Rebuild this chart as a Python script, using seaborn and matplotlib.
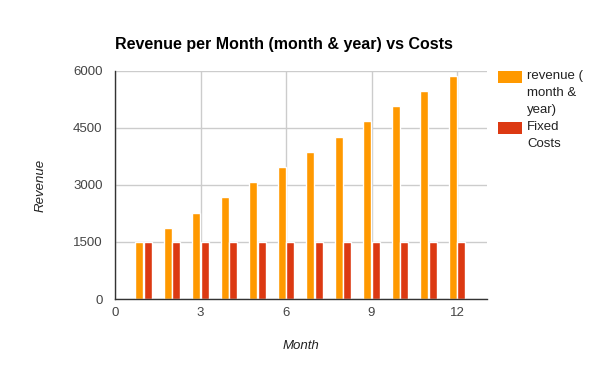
import pandas as pd
import matplotlib
matplotlib.use("Agg")
import matplotlib.pyplot as plt
from matplotlib.patches import Rectangle
import seaborn as sns

months = [1, 2, 3, 4, 5, 6, 7, 8, 9, 10, 11, 12]
revenue = [1500, 1880, 2270, 2680, 3080, 3480, 3870, 4270, 4690, 5080, 5480, 5880]
fixed_costs = [1500] * 12
series_names = ["revenue ( month & year)", "Fixed Costs"]
legend_labels = ["revenue (\nmonth &\nyear)", "Fixed\nCosts"]
x_ticks = [0, 3, 6, 9, 12]
y_ticks = [0, 1500, 3000, 4500, 6000]
colors = ["#FF9900", "#DC3912"]

df = pd.DataFrame({
    "month": months * 2,
    "value": revenue + fixed_costs,
    "series": [series_names[0]] * 12 + [series_names[1]] * 12,
})

sns.set_style("white")
plt.rcParams["font.family"] = ["Liberation Sans", "DejaVu Sans"]

fig = plt.figure(figsize=(6, 3.71), dpi=100)
ax = fig.add_axes([115 / 600, 1 - 299 / 371, 372 / 600, 228 / 371])

sns.barplot(data=df, x="month", y="value", hue="series", native_scale=True,
            width=0.6, gap=0.1, palette=colors, ax=ax, legend=False,
            saturation=1, zorder=3)

ax.set_xlim(0, 13.05)
ax.set_ylim(0, 6000)
ax.set_xticks(x_ticks)
ax.set_yticks(y_ticks)
ax.tick_params(axis="both", length=0, labelsize=9.5, labelcolor="#444444")
ax.tick_params(axis="y", pad=9)
ax.tick_params(axis="x", pad=6)
ax.grid(True, color="#cccccc", linewidth=1, zorder=0)
ax.set_axisbelow(True)
for s in ["top", "right"]:
    ax.spines[s].set_visible(False)
for s in ["left", "bottom"]:
    ax.spines[s].set_color("#333333")
    ax.spines[s].set_linewidth(1)
    ax.spines[s].set_zorder(4)

ax.set_xlabel("Month", fontsize=9.5, style="italic", color="#222222", labelpad=15)
ax.set_ylabel("Revenue", fontsize=9.5, style="italic", color="#222222", labelpad=19)

fig.text(115 / 600, 1 - 45 / 371, "Revenue per Month (month & year) vs Costs",
         fontsize=11.5, fontweight="bold", color="#000000", va="center")

# legend drawn by hand so the swatch sits beside the first line of each label
legend_tops = [71, 122]
for color, label, top in zip(colors, legend_labels, legend_tops):
    fig.add_artist(Rectangle((498 / 600, 1 - (top + 12) / 371), 24 / 600, 12 / 371,
                             transform=fig.transFigure, facecolor=color,
                             edgecolor="none"))
    fig.text(527 / 600, 1 - (top - 1) / 371, label, fontsize=9.5, color="#222222",
             va="top", ha="left", linespacing=1.55)

fig.savefig("out.png", dpi=100)
